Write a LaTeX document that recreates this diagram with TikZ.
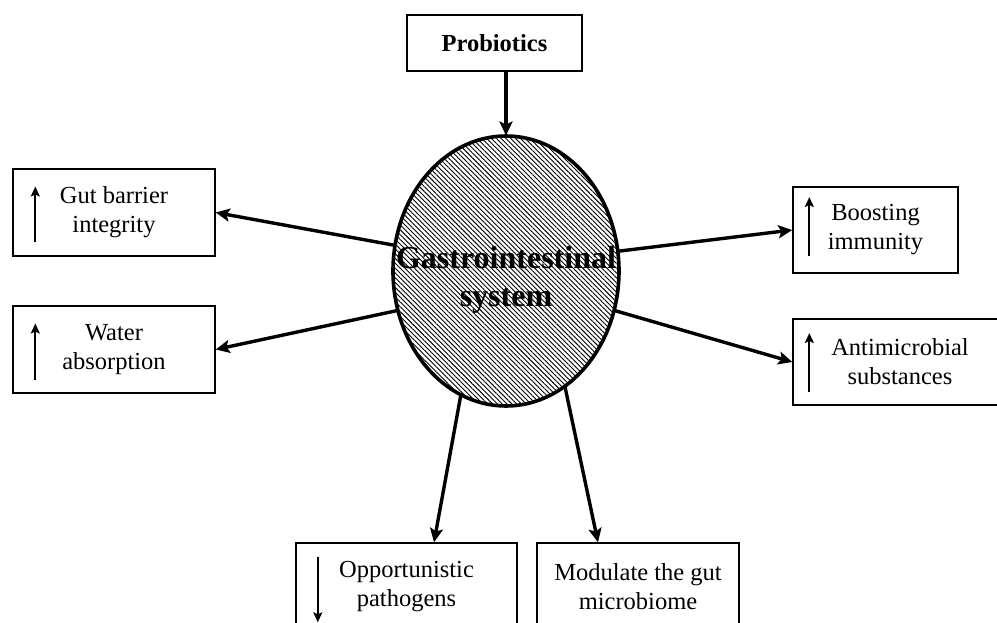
\documentclass[tikz,border=0pt]{standalone}
\usepackage{fontspec}
\setmainfont{Liberation Serif}
\usetikzlibrary{shapes.geometric,patterns.meta,arrows.meta}

\tikzset{
  box/.style={draw, line width=1.4pt, minimum width=202, minimum height=87,
    inner sep=0pt, align=center, font=\fontsize{24.5}{29}\selectfont},
  conn/.style={-{Stealth[length=14pt,width=13pt,inset=3pt]}, line width=3.4pt},
  tick/.style={-{Stealth[length=10pt,width=9pt,inset=2pt]}, line width=2.2pt},
}

\begin{document}
\begin{tikzpicture}[x=1pt,y=-1pt]
	\clip (0,0) rectangle (997,623);
	% centre
	\node[draw, ellipse, line width=3.6pt, minimum width=226, minimum height=270,
	      inner sep=0pt,
	      pattern={Lines[angle=-45,distance=3.4pt,line width=0.9pt]}] (gi) at (506,271) {};
	\node[align=center, inner sep=0pt, font=\bfseries\fontsize{32}{38}\selectfont]
	      (gitext) at (506,280) {Gastrointestinal\\system};
	\node[box, minimum width=175, minimum height=56, font=\bfseries\fontsize{24.5}{29}\selectfont]
	      (pro) at (494.5,43) {Probiotics};

	% boxes
	\node[box] (gut) at (114,212.5) {Gut barrier\\integrity};
	\node[box] (water) at (114,349.5) {Water\\absorption};
	\node[box, minimum width=165, minimum height=86] (boost) at (875.5,230) {Boosting\\immunity};
	\node[box, minimum width=214, minimum height=86] (anti) at (900,362) {Antimicrobial\\substances};
	\node[box, minimum width=221] (opp) at (406.5,586.5) {Opportunistic\\pathogens};
	\node[box] (mod) at (638,586.5) {Modulate the gut\\microbiome};

	% up / down marks
	\draw[tick] ([shift={(23,30)}]gut.west) -- ([shift={(23,-26)}]gut.west);
	\draw[tick] ([shift={(23,30)}]water.west) -- ([shift={(23,-26)}]water.west);
	\draw[tick] ([shift={(17,26)}]boost.west) -- ([shift={(17,-33)}]boost.west);
	\draw[tick] ([shift={(17,30)}]anti.west) -- ([shift={(17,-29)}]anti.west);
	\draw[tick] ([shift={(22.5,15)}]opp.north west) -- ([shift={(22.5,80)}]opp.north west);

	% arrows
	\draw[conn] ([xshift=11.5pt]pro.south) -- (gi.north);
	\draw[conn] (gi.167) -- (gut.east);
	\draw[conn] (gi.200) -- (water.east);
	\draw[conn] (gi.10.6) -- (boost.west);
	\draw[conn] (gi.340) -- (anti.west);
	\draw[conn] (gi.250) -- ([xshift=27.5pt]opp.north);
	\draw[conn] (gi.297) -- ([xshift=-40pt]mod.north);
\end{tikzpicture}
\end{document}
